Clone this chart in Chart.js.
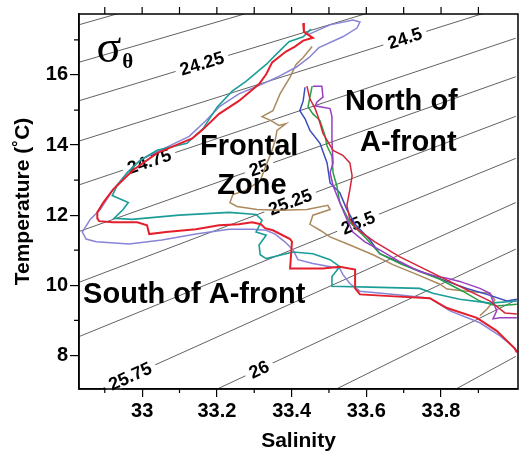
<!DOCTYPE html>
<html>
<head>
<meta charset="utf-8">
<title>T-S diagram</title>
<script src="https://cdn.jsdelivr.net/npm/chart.js@4.4.0/dist/chart.umd.min.js"></script>
<style>
    html, body { margin: 0; padding: 0; background: #fff; }
    #wrap { width: 519px; height: 459px; }
</style>
</head>
<body>
<div id="wrap"><canvas id="tsChart" width="519" height="459"></canvas></div>
<script>
// axes
const salinityRange = [32.831, 34.006];
const tempRange = [7.04, 17.74];
const salinityTicks = [33, 33.2, 33.4, 33.6, 33.8];
const salinityMinor = [32.9, 33.1, 33.3, 33.5, 33.7, 33.9];
const tempTicks = [8, 10, 12, 14, 16];
const tempMinor = [9, 11, 13, 15, 17];

// sigma-theta isopycnals, end points
const sigmaLevels = [23.75, 24.0, 24.25, 24.5, 24.75, 25.0, 25.25, 25.5, 25.75, 26.0, 26.25, 26.5];
const contourS0 = [32.83, 32.83, 32.83, 32.83, 32.83, 32.83, 32.83, 32.83, 32.883, 33.193, 33.512, 33.833];
const contourT0 = [17.43, 16.36, 15.26, 14.11, 12.86, 11.53, 10.08, 8.53, 7.0, 7.0, 7.0, 7.0];
const contourS1 = [34.0, 34.0, 34.0, 34.0, 34.0, 34.0, 34.0, 34.0, 34.0, 34.0, 34.0, 34.0];
const contourT1 = [21.0, 20.0, 19.05, 18.05, 17.05, 15.95, 14.82, 13.62, 12.36, 11.03, 9.57, 7.97];

// contour labels
const contourLabelText = ['24.25', '24.5', '24.75', '25', '25.25', '25.5', '25.75', '26'];
const contourLabelLevel = [24.25, 24.5, 24.75, 25.0, 25.25, 25.5, 25.75, 26.0];
const contourLabelS = [33.160, 33.703, 33.019, 33.313, 33.396, 33.578, 32.968, 33.313];

// profiles (salinity, temperature)
const redS = [33.431, 33.433, 33.457, 33.431, 33.409, 33.385, 33.348, 33.332, 33.313, 33.259, 33.206, 33.160, 33.134, 33.102, 33.040, 32.976, 32.922, 32.896, 32.880, 32.880, 32.885, 32.920, 32.987, 33.013, 33.019, 33.064, 33.144, 33.206, 33.259, 33.294, 33.318, 33.329, 33.350, 33.396, 33.401, 33.396, 33.484, 33.529, 33.570, 33.570, 33.583, 33.663, 33.770, 33.816, 33.896, 33.949, 33.976, 33.997, 34.003];
const redT = [17.48, 17.23, 17.06, 16.98, 16.81, 16.67, 16.36, 16.02, 15.74, 15.26, 14.89, 14.42, 14.19, 14.05, 13.77, 13.29, 12.73, 12.36, 12.08, 11.91, 11.83, 11.80, 11.80, 11.71, 11.46, 11.52, 11.60, 11.71, 11.74, 11.80, 11.74, 11.63, 11.57, 11.32, 11.24, 10.48, 10.48, 10.53, 10.45, 9.91, 9.74, 9.69, 9.63, 9.35, 9.07, 8.70, 8.42, 8.20, 8.08];

const tealS = [33.452, 33.431, 33.393, 33.358, 33.332, 33.278, 33.241, 33.201, 33.163, 33.120, 33.040, 32.995, 32.960, 32.933, 32.920, 32.963, 32.949, 32.925, 32.973, 33.099, 33.233, 33.305, 33.321, 33.305, 33.332, 33.313, 33.316, 33.332, 33.404, 33.457, 33.503, 33.529, 33.508, 33.508, 33.636, 33.743, 33.778, 33.850, 33.931, 34.003];
const tealT = [17.31, 17.09, 16.95, 16.58, 16.30, 15.82, 15.54, 15.09, 14.47, 14.05, 13.85, 13.57, 13.21, 12.84, 12.56, 12.36, 12.16, 11.91, 11.88, 12.00, 12.08, 12.02, 11.86, 11.52, 11.43, 11.15, 10.87, 10.76, 10.95, 10.90, 10.73, 10.53, 10.25, 9.97, 9.94, 9.91, 9.77, 9.60, 9.49, 9.55];

const lavenderS = [33.444, 33.503, 33.564, 33.583, 33.575, 33.537, 33.473, 33.447, 33.412, 33.366, 33.321, 33.259, 33.206, 33.171, 33.126, 33.048, 32.995, 32.960, 32.922, 32.888, 32.861, 32.840, 32.850, 32.877, 32.965, 33.053, 33.144, 33.233, 33.294, 33.332, 33.356, 33.382, 33.404, 33.417, 33.457, 33.529, 33.537, 33.556, 33.583, 33.690, 33.770, 33.824, 33.904, 33.957, 33.989, 34.003];
const lavenderT = [17.15, 17.43, 17.57, 17.51, 17.34, 17.09, 16.78, 16.50, 16.22, 15.96, 15.74, 15.46, 15.09, 14.70, 14.25, 13.85, 13.57, 13.21, 12.73, 12.16, 11.88, 11.52, 11.32, 11.24, 11.18, 11.29, 11.46, 11.60, 11.60, 11.57, 11.46, 11.24, 11.01, 10.73, 10.62, 10.48, 10.31, 10.05, 9.83, 9.72, 9.63, 9.27, 8.93, 8.56, 8.28, 8.14];

const tanS = [33.455, 33.431, 33.412, 33.396, 33.369, 33.350, 33.321, 33.345, 33.366, 33.385, 33.361, 33.356, 33.345, 33.332, 33.316, 33.275, 33.243, 33.235, 33.254, 33.308, 33.369, 33.441, 33.497, 33.503, 33.457, 33.449, 33.476, 33.503, 33.556, 33.618, 33.671, 33.735, 33.797, 33.816, 33.869, 33.931, 33.944, 33.923, 33.904];
const tanT = [16.81, 16.50, 16.30, 15.94, 15.46, 14.98, 14.81, 14.70, 14.56, 14.61, 14.42, 14.13, 13.77, 13.43, 12.98, 12.70, 12.59, 12.36, 12.25, 12.16, 12.14, 12.16, 12.28, 12.16, 12.00, 11.74, 11.57, 11.38, 11.15, 10.87, 10.59, 10.31, 10.03, 9.89, 9.83, 9.77, 9.58, 9.32, 9.13];

const purpleS = [33.457, 33.481, 33.484, 33.468, 33.463, 33.503, 33.508, 33.508, 33.511, 33.503, 33.511, 33.529, 33.548, 33.564, 33.596, 33.636, 33.690, 33.743, 33.789, 33.816, 33.850, 33.904, 33.931, 33.939, 33.949, 33.939, 33.957, 34.003];
const purpleT = [15.68, 15.68, 15.37, 15.23, 15.12, 15.04, 14.81, 14.13, 13.49, 13.21, 12.84, 12.36, 11.88, 11.52, 11.24, 11.01, 10.67, 10.39, 10.25, 10.20, 10.11, 9.91, 9.77, 9.55, 9.27, 9.04, 9.07, 9.07];

const greenS = [33.455, 33.449, 33.444, 33.457, 33.476, 33.489, 33.495, 33.508, 33.511, 33.521, 33.529, 33.556, 33.596, 33.636, 33.690, 33.743, 33.797, 33.858, 33.904, 33.949, 34.003];
const greenT = [15.68, 15.37, 15.09, 14.89, 14.70, 14.28, 13.97, 13.68, 13.21, 12.84, 12.36, 11.80, 11.38, 10.90, 10.62, 10.39, 10.17, 9.83, 9.55, 9.41, 9.46];

const blueS = [33.436, 33.431, 33.422, 33.436, 33.449, 33.476, 33.495, 33.503, 33.529, 33.548, 33.570, 33.610, 33.636, 33.725, 33.816, 33.869, 33.923, 33.976, 34.003];
const blueT = [15.65, 15.26, 14.98, 14.75, 14.42, 14.05, 13.49, 12.92, 12.64, 12.16, 11.74, 11.29, 10.90, 10.48, 10.11, 9.91, 9.74, 9.55, 9.60];

const redNorthS = [33.441, 33.449, 33.463, 33.471, 33.484, 33.511, 33.537, 33.556, 33.562, 33.556, 33.548, 33.556, 33.575, 33.623, 33.690, 33.770, 33.850, 33.931, 33.971, 34.003];
const redNorthT = [15.68, 15.32, 15.04, 14.81, 14.33, 13.85, 13.71, 13.49, 13.12, 12.73, 12.28, 11.88, 11.60, 11.24, 10.81, 10.39, 9.97, 9.55, 9.21, 9.18];

const FONT = '"Liberation Sans", Arial, Helvetica, sans-serif';

function toPoints(sArr, tArr) {
    return sArr.map((s, i) => ({ x: s, y: tArr[i] }));
}

function profile(sArr, tArr, color, width, order) {
    return {
        data: toPoints(sArr, tArr),
        showLine: true,
        borderColor: color,
        borderWidth: width,
        pointRadius: 0,
        tension: 0,
        order: order
    };
}

const profiles = [
    profile(redS, redT, '#e41f2c', 2, 1),
    profile(redNorthS, redNorthT, '#d3263a', 1.5, 2),
    profile(tealS, tealT, '#1c9d98', 1.6, 3),
    profile(purpleS, purpleT, '#9a3fc2', 1.5, 4),
    profile(greenS, greenT, '#2a9f45', 1.5, 5),
    profile(blueS, blueT, '#3a4cc0', 1.5, 6),
    profile(lavenderS, lavenderT, '#8884d6', 1.5, 7),
    profile(tanS, tanT, '#aa8a5e', 1.5, 8)
];

const firstContour = profiles.length;
const contours = sigmaLevels.map((lvl, k) => ({
    data: [{ x: contourS0[k], y: contourT0[k] }, { x: contourS1[k], y: contourT1[k] }],
    showLine: true,
    borderColor: '#3a3a3a',
    borderWidth: 0.8,
    pointRadius: 0,
    order: 10
}));

// labels on the isopycnals, drawn over the lines but under the profiles
const isopycnalLabels = {
    id: 'isopycnalLabels',
    afterDatasetDraw(chart, args) {
        if (args.index !== firstContour) return;
        const { ctx, scales: { x, y } } = chart;
        ctx.save();
        ctx.font = 'bold 18px ' + FONT;
        ctx.textAlign = 'center';
        ctx.textBaseline = 'middle';
        contourLabelLevel.forEach((lvl, i) => {
            const k = sigmaLevels.indexOf(lvl);
            const s = contourLabelS[i];
            const f = (s - contourS0[k]) / (contourS1[k] - contourS0[k]);
            const t = contourT0[k] + f * (contourT1[k] - contourT0[k]);
            const ang = Math.atan2(
                y.getPixelForValue(contourT1[k]) - y.getPixelForValue(contourT0[k]),
                x.getPixelForValue(contourS1[k]) - x.getPixelForValue(contourS0[k])
            );
            ctx.save();
            ctx.translate(x.getPixelForValue(s), y.getPixelForValue(t));
            ctx.rotate(ang);
            const w = ctx.measureText(contourLabelText[i]).width;
            ctx.fillStyle = '#fff';
            ctx.fillRect(-w / 2 - 5, -8, w + 10, 16);
            ctx.fillStyle = '#000';
            ctx.fillText(contourLabelText[i], 0, 1);
            ctx.restore();
        });
        ctx.restore();
    }
};

// region names and the sigma-theta symbol
const regionText = {
    id: 'regionText',
    afterDatasetsDraw(chart) {
        const { ctx, scales: { x, y } } = chart;
        const put = (txt, s, t, font) => {
            ctx.font = font;
            ctx.fillText(txt, x.getPixelForValue(s), y.getPixelForValue(t));
        };
        ctx.save();
        ctx.fillStyle = '#000';
        ctx.textAlign = 'left';
        ctx.textBaseline = 'alphabetic';
        const big = 'bold 29px ' + FONT;
        put('Frontal', 33.155, 13.71, big);
        put('Zone', 33.201, 12.59, big);
        put('North of', 33.543, 15.01, big);
        put('A-front', 33.583, 13.83, big);
        put('South of A-front', 32.842, 9.49, big);
        put('σ', 32.878, 16.36, '46px "Liberation Serif", "DejaVu Serif", serif');
        put('θ', 32.947, 16.19, 'bold 21px "Liberation Serif", "DejaVu Serif", serif');
        ctx.restore();
    }
};

// closed frame, minor ticks and top ticks
const frameTicks = {
    id: 'frameTicks',
    afterDraw(chart) {
        const { ctx, chartArea: a, scales: { x, y } } = chart;
        ctx.save();
        ctx.strokeStyle = '#000';
        ctx.lineWidth = 1.5;
        ctx.strokeRect(a.left, a.top, a.right - a.left, a.bottom - a.top);
        ctx.lineWidth = 1.2;
        ctx.beginPath();
        salinityMinor.forEach(v => {
            const px = x.getPixelForValue(v);
            ctx.moveTo(px, a.bottom);
            ctx.lineTo(px, a.bottom + 4);
        });
        salinityTicks.concat(salinityMinor).forEach(v => {
            const px = x.getPixelForValue(v);
            ctx.moveTo(px, a.top);
            ctx.lineTo(px, a.top - 7);
        });
        tempMinor.forEach(v => {
            const py = y.getPixelForValue(v);
            ctx.moveTo(a.left, py);
            ctx.lineTo(a.left - 5, py);
        });
        ctx.stroke();
        ctx.restore();
    }
};

new Chart(document.getElementById('tsChart'), {
    type: 'scatter',
    data: { datasets: profiles.concat(contours) },
    options: {
        responsive: false,
        animation: false,
        events: [],
        layout: { padding: { top: 9, right: 1, left: 0, bottom: 0 } },
        plugins: {
            legend: { display: false },
            tooltip: { enabled: false }
        },
        scales: {
            x: {
                type: 'linear',
                min: salinityRange[0],
                max: salinityRange[1],
                afterBuildTicks: s => { s.ticks = salinityTicks.map(v => ({ value: v })); },
                afterFit: s => { s.height = 70; },
                ticks: {
                    color: '#000',
                    font: { family: FONT, size: 20, weight: 'bold' },
                    padding: 2,
                    maxRotation: 0,
                    callback: v => String(v)
                },
                grid: { drawOnChartArea: false, color: '#000', lineWidth: 1.2, tickLength: 8 },
                border: { color: '#000', width: 1.5 },
                title: {
                    display: true,
                    text: 'Salinity',
                    color: '#000',
                    font: { family: FONT, size: 21, weight: 'bold' },
                    padding: { top: 0, bottom: 5 }
                }
            },
            y: {
                type: 'linear',
                min: tempRange[0],
                max: tempRange[1],
                afterBuildTicks: s => { s.ticks = tempTicks.map(v => ({ value: v })); },
                afterFit: s => { s.width = 79; },
                ticks: {
                    color: '#000',
                    font: { family: FONT, size: 20, weight: 'bold' },
                    padding: 2,
                    callback: v => String(v)
                },
                grid: { drawOnChartArea: false, color: '#000', lineWidth: 1.2, tickLength: 9 },
                border: { color: '#000', width: 1.5 },
                title: {
                    display: true,
                    text: 'Temperature (˚C)',
                    color: '#000',
                    font: { family: FONT, size: 21, weight: 'bold' },
                    padding: { top: 11, bottom: 0 }
                }
            }
        }
    },
    plugins: [isopycnalLabels, regionText, frameTicks]
});
</script>
</body>
</html>
